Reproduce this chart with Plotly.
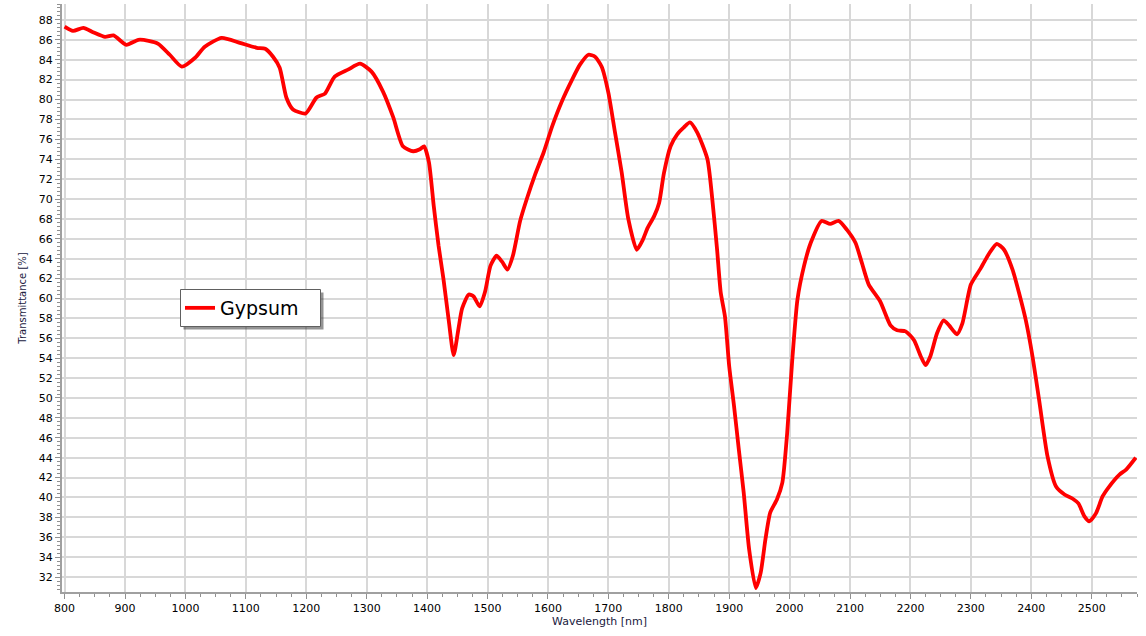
import plotly.graph_objects as go

wavelength = [800, 814, 831, 847, 867, 881, 902, 922, 939, 955, 974, 994, 1016, 1032, 1060, 1090,
              1118, 1132, 1145, 1156, 1167, 1178, 1199, 1217, 1231, 1247, 1269, 1289, 1308, 1327,
              1344, 1360, 1377, 1388, 1395, 1403, 1411, 1419, 1427, 1436, 1444, 1452, 1458, 1469,
              1477, 1487, 1496, 1505, 1515, 1524, 1533, 1542, 1554, 1565, 1579, 1593, 1607, 1623,
              1640, 1653, 1667, 1678, 1689, 1700, 1711, 1722, 1733, 1747, 1757, 1765, 1776, 1784,
              1792, 1803, 1814, 1825, 1835, 1847, 1864, 1872, 1880, 1886, 1893, 1900, 1908, 1916,
              1924, 1933, 1944, 1952, 1960, 1968, 1979, 1988, 1996, 2004, 2013, 2024, 2035, 2053,
              2067, 2081, 2095, 2109, 2120, 2131, 2150, 2167, 2178, 2192, 2206, 2217, 2225, 2233,
              2244, 2255, 2264, 2277, 2286, 2300, 2316, 2330, 2343, 2355, 2369, 2380, 2391, 2402,
              2413, 2427, 2441, 2455, 2468, 2478, 2488, 2496, 2507, 2518, 2529, 2546, 2557, 2573]

transmittance = [87.33, 86.9, 87.2, 86.77, 86.3, 86.45, 85.5, 86.0, 85.9, 85.6, 84.5, 83.3, 84.2, 85.3, 86.2, 85.7,
                 85.2, 85.1, 84.3, 83.2, 80.2, 79.0, 78.6, 80.2, 80.6, 82.3, 83.0, 83.6, 82.8, 80.8,
                 78.2, 75.3, 74.8, 75.0, 75.3, 73.7, 69.3, 65.3, 62.0, 57.7, 54.3, 57.0, 59.0, 60.4,
                 60.2, 59.2, 60.7, 63.3, 64.3, 63.7, 62.9, 64.3, 67.8, 70.0, 72.5, 74.7, 77.3, 79.8,
                 82.0, 83.5, 84.5, 84.3, 83.3, 80.7, 76.7, 72.7, 68.0, 64.9, 65.9, 67.1, 68.3, 69.6,
                 72.6, 75.3, 76.5, 77.2, 77.7, 76.7, 74.0, 70.0, 64.9, 60.6, 58.2, 53.2, 49.2, 44.8,
                 40.5, 34.8, 30.9, 32.4, 35.8, 38.5, 39.8, 41.5, 46.5, 53.5, 59.9, 63.3, 65.6, 67.8,
                 67.5, 67.8, 66.9, 65.6, 63.5, 61.4, 59.7, 57.3, 56.8, 56.7, 55.8, 54.2, 53.3, 54.2,
                 56.5, 57.8, 57.3, 56.4, 57.5, 61.4, 63.0, 64.5, 65.5, 64.9, 62.9, 60.5, 57.8, 54.2,
                 49.8, 44.1, 41.1, 40.3, 39.9, 39.4, 38.1, 37.6, 38.4, 40.1, 41.1, 42.3, 42.8, 44.0]

x_ticks = list(range(800, 2501, 100))
y_ticks = list(range(32, 89, 2))
series_name = "Gypsum"

W, H = 1146, 636
L, R, T, B = 62, 9, 4, 44
pw, ph = W - L - R, H - T - B

def px(xp):
    return (xp - L) / pw

def py(yp):
    return (H - B - yp) / ph

fig = go.Figure()
fig.add_trace(go.Scatter(
    x=wavelength, y=transmittance, mode="lines", name=series_name,
    line=dict(color="#ff0000", width=3.8, shape="spline", smoothing=0.6),
))

font = "DejaVu Sans"
axis_common = dict(
    showline=True, linecolor="#a0a0a0", linewidth=2,
    showgrid=True, gridcolor="#d8d8d8", gridwidth=2,
    ticks="outside", ticklen=5, tickwidth=1, tickcolor="#909090",
    tickfont=dict(family=font, size=11, color="#000000"),
    zeroline=False, mirror=False, automargin=False,
)

fig.update_xaxes(
    range=[795.7, 2575], tickvals=x_ticks, ticktext=[str(v) for v in x_ticks],
    minor=dict(dtick=25, tick0=800, ticks="outside", ticklen=3, tickcolor="#909090", showgrid=False),
    title=dict(text="Wavelength [nm]", font=dict(family=font, size=11, color="#202040"), standoff=2),
    **axis_common,
)
fig.update_yaxes(
    range=[30.5, 89.6], tickvals=y_ticks, ticktext=[str(v) for v in y_ticks],
    minor=dict(dtick=0.4, tick0=32, ticks="outside", ticklen=3, tickcolor="#909090", showgrid=False),
    title=dict(text="Transmittance [%]", font=dict(family=font, size=10, color="#202040"), standoff=10),
    **axis_common,
)

# legend frame with shadow
fig.add_shape(type="rect", xref="paper", yref="paper",
              x0=px(183.5), x1=px(323.5), y0=py(329.5), y1=py(292.5),
              fillcolor="rgba(60,60,60,0.55)", line=dict(width=0), layer="above")
fig.add_shape(type="rect", xref="paper", yref="paper",
              x0=px(180.5), x1=px(320.5), y0=py(326.5), y1=py(289.5),
              fillcolor="#ffffff", line=dict(color="#606060", width=1), layer="above")

fig.update_layout(
    width=W, height=H,
    margin=dict(l=L, r=R, t=T, b=B, autoexpand=False),
    paper_bgcolor="#ffffff", plot_bgcolor="#ffffff",
    showlegend=True,
    legend=dict(x=px(180), y=py(308), xanchor="left", yanchor="middle",
                bgcolor="rgba(0,0,0,0)", borderwidth=0,
                font=dict(family=font, size=19, color="#000000"),
                itemwidth=30),
)

fig.write_html("out.html", config={"displayModeBar": False},
               post_script="document.body.style.margin='0px';document.body.style.overflow='hidden';")
